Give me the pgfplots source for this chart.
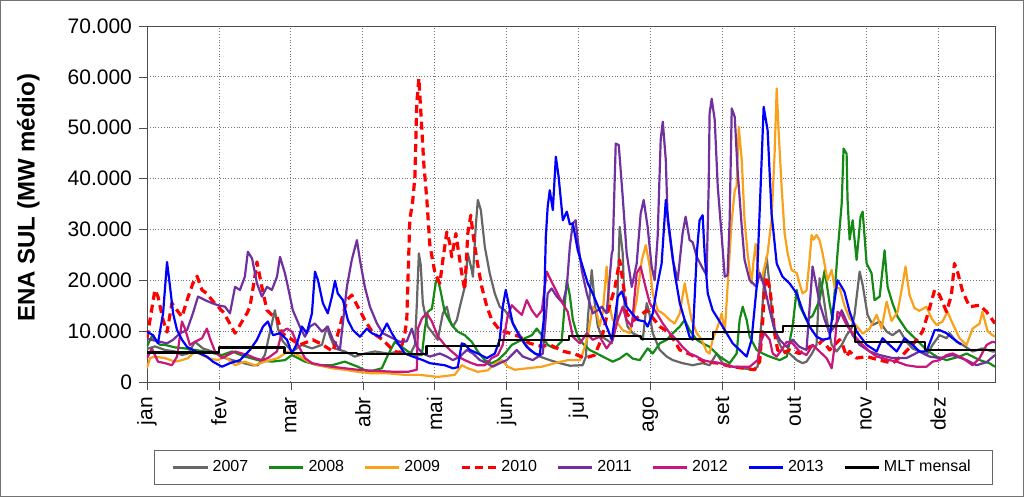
\documentclass[border=0pt]{standalone}
\usepackage{fontspec}
\setmainfont{Liberation Sans}
\usepackage{pgfplots}
\pgfplotsset{compat=1.18}
\definecolor{c07}{HTML}{666666}
\definecolor{c08}{HTML}{148A14}
\definecolor{c09}{HTML}{F9A11B}
\definecolor{c10}{HTML}{FF0000}
\definecolor{c11}{HTML}{7030A0}
\definecolor{c12}{HTML}{C8167A}
\definecolor{c13}{HTML}{0000FF}
\begin{document}
\begin{tikzpicture}
\useasboundingbox (0,0) rectangle (512pt,248.5pt);
\begin{axis}[
  at={(73.5pt,57.5pt)}, anchor=south west,
  scale only axis, width=424pt, height=178pt,
  xmin=0, xmax=364, ymin=0, ymax=70000,
  xtick={0,30.87,61.74,92.61,123.48,154.35,185.22,216.09,246.96,277.83,308.7,339.57},
  xticklabels={jan,fev,mar,abr,mai,jun,jul,ago,set,out,nov,dez},
  ytick={0,10000,20000,30000,40000,50000,60000,70000},
  scaled y ticks=false,
  /pgf/number format/1000 sep={.},
  /pgf/number format/assume math mode=true,
  tick label style={font=\fontsize{10.5}{12}\selectfont},
  xticklabel style={rotate=90, anchor=east},
  tick align=outside, tick pos=left, major tick length=4pt,
  tick style={black!70},
  axis line style={black!70},
  grid=major, major grid style={densely dotted, black!55},
  ylabel={ENA SUL (MW médio)},
  ylabel style={at={(axis description cs:-0.140,0.517)}, anchor=center, font=\bfseries\fontsize{12}{14}\selectfont},
  legend style={at={(axis description cs:0.503,-0.240)}, anchor=center, draw=black!60,
    font=\fontsize{8}{9.6}\selectfont, inner xsep=9pt, inner ysep=3pt,
    /tikz/every even column/.append style={column sep=8pt}},
  legend columns=8, legend cell align=left,
  every axis plot/.append style={mark=none, line join=round, line width=1.1pt},
]
% 2007
\addplot[c07] coordinates {(0,6500)(3.4,7000)(7.7,6300)(12,6000)(15,5300)(17.6,5600)(20.6,7900)(24,6600)(27.9,6000)(33.5,4700)(39,4000)(45.1,3300)(47.6,3300)(50.6,5300)(52.8,9900)(54.9,14100)(56.2,10500)(58.3,8000)(62.2,6000)(66.5,7300)(70.8,6600)(75.1,7300)(77.2,10900)(78.5,9000)(80.7,6600)(84.9,6000)(89.2,5000)(93.5,5600)(97.8,6000)(103.4,5600)(108.5,6000)(112.8,5300)(115,7300)(115.8,15000)(116.7,25300)(117.5,23000)(118.4,15500)(120.5,10900)(122.7,9600)(124.8,8300)(127,13500)(128.7,14800)(130,12200)(131.3,10900)(133,12200)(134.3,14800)(136.4,18700)(137.7,25300)(139.4,22000)(139.9,20700)(141.1,30500)(142,35800)(143.3,33800)(145,26600)(147.1,21400)(149.3,17400)(151.4,14800)(153.6,14100)(155.7,12800)(158.7,10200)(161.3,8300)(164.3,6300)(168.6,5000)(172.9,4300)(177.2,3700)(181.5,3200)(187,3300)(188.4,5000)(189.2,12200)(190.9,22000)(192.2,15500)(193.5,11000)(195.2,8900)(197.3,8300)(199.5,7600)(201.6,12000)(202.9,30500)(204.2,25300)(205.1,13500)(206.3,10900)(208.5,9600)(211.5,8900)(212.8,8300)(214.5,15500)(215.4,14100)(217.1,9600)(220.1,6300)(223.1,5000)(225.7,4300)(229.9,3700)(234.2,3300)(238.5,3700)(241.5,3300)(244.5,5600)(247.1,3700)(251.4,3000)(255.7,2700)(260,2400)(262.1,3000)(263.8,12200)(265.1,21400)(266,24600)(267.3,18700)(268.6,12200)(270.7,8300)(272.8,6300)(275.8,5600)(278.9,4300)(281.4,3700)(283.1,4000)(285.3,5500)(287.4,7300)(288.7,20400)(290,18000)(291.7,12500)(293.9,7300)(296,6000)(298.2,7300)(300.3,9200)(302.4,10500)(303.7,13200)(305.9,21700)(307.2,19100)(309.3,13200)(311.5,11200)(314.5,11900)(317.5,9900)(320,9200)(323,10200)(326,7900)(328.6,6600)(331.6,6000)(334.6,5300)(337.2,7300)(340.2,9200)(343.2,8600)(344.5,9600)(347.5,7900)(350.1,7300)(354.4,6000)(358.6,6600)(362.9,6000)(364,6000)};
% 2008
\addplot[c08] coordinates {(0,7000)(2.1,9000)(5.6,7300)(7.7,7300)(12,6800)(16.3,6600)(20.6,6300)(24.9,6000)(29.2,5600)(32.2,5300)(36.5,6000)(42,5000)(47.6,4300)(53.6,4000)(59.2,4300)(62.2,5300)(67.8,4000)(73.4,3300)(79.4,3300)(84.9,4000)(90.5,3000)(95,2000)(100.8,2700)(103.4,5300)(106.4,7900)(109.4,6900)(112,6000)(115,5300)(118,5300)(119.3,10500)(120.5,13800)(122.3,14400)(124,19700)(124.8,20400)(126.1,17700)(127.8,13800)(130.8,11200)(133.4,9900)(136.4,9200)(139.4,7900)(142,6000)(145,4300)(148,3700)(150.6,4300)(153.6,5600)(156.6,7300)(159.2,7900)(162.2,8600)(165.2,9200)(167.3,10500)(169.5,9200)(172,7300)(175,6600)(178,8000)(179.3,15100)(180.2,20000)(181.5,17000)(182.8,12200)(184.9,8900)(187,7600)(190,6300)(193.1,5600)(195.6,5000)(199.9,4000)(202.9,4600)(205.9,5600)(208.5,4600)(211.5,4300)(214.9,6600)(217.1,5600)(220.1,7600)(223.1,8300)(225.7,9600)(228.7,10900)(230.8,12200)(232.9,10200)(236,8300)(238.5,7600)(241.5,6900)(245.8,5000)(250.1,3700)(253.1,5600)(254.4,12200)(255.7,14800)(257.4,12200)(258.7,8900)(261.7,6300)(264.3,5600)(267.3,5000)(271.6,4300)(274.6,5000)(277.1,10900)(278.9,18100)(280.1,15000)(283.1,12200)(285.7,13000)(288.7,16100)(290.9,22000)(293,15500)(294.3,12200)(296.4,25300)(298.2,35100)(299,45900)(300.3,44900)(300.7,36000)(301.6,28000)(302.9,31800)(304.6,24000)(306.3,32500)(307.2,33500)(308.9,23300)(311,21400)(312.3,16100)(314.5,16800)(316.6,25900)(317.9,18700)(320,15500)(322.2,12800)(326,10200)(330.3,8300)(334.6,6300)(338.9,5000)(343.2,4300)(348.8,5000)(351.8,5600)(357.4,4300)(361.6,3700)(364,3000)};
% 2009
\addplot[c09] coordinates {(0,2700)(1.3,4700)(3.4,5000)(7.7,4700)(12,4000)(15,4300)(17.6,4700)(20.6,6000)(23.6,5300)(26.2,4700)(30.5,4300)(33.5,5000)(37.8,3300)(42,4000)(46.3,3300)(50.6,4000)(56.2,4700)(60.5,6000)(64.8,5300)(69.1,4000)(73.4,3300)(79.4,2700)(84.9,2400)(90.5,2000)(96.5,1700)(103.4,1700)(110.7,1400)(117.1,1400)(124.8,1000)(132.1,1400)(135.1,3300)(137.7,2700)(142,2000)(146.3,2300)(149.3,3600)(152.3,4300)(154.9,3000)(157.9,2400)(163.4,2700)(169.5,3000)(175,3700)(180.6,4300)(185.8,4300)(187,5600)(189.2,8900)(191.3,14800)(193.1,13500)(194.3,11000)(195.6,13500)(197.3,22700)(198.6,14800)(199.9,12200)(202.1,11500)(204.2,10200)(207.2,9600)(210.2,16100)(212.4,24000)(214.1,26900)(215.8,22700)(217.1,17400)(219.2,14100)(221.4,13500)(224.4,12200)(226.5,11500)(228.7,13500)(230.8,19400)(232.1,16100)(233.8,12200)(236,9600)(238.1,8300)(240.2,6000)(241.5,5600)(242.8,8300)(245,10900)(246.7,13500)(248,9600)(249.2,18700)(251,31800)(252.3,37700)(253.1,38500)(254,50200)(255.3,43600)(256.5,31800)(257.8,25300)(259.5,19400)(260.4,24000)(261.3,27200)(262.1,22700)(263.8,20000)(265.1,22700)(266.4,25300)(268.1,32000)(269.4,44900)(270.3,57700)(271.1,49500)(272.4,38400)(273.7,29200)(275,25300)(276.7,22000)(278.9,21400)(280.1,19400)(281.4,17400)(283.1,18000)(284.4,24000)(285.3,28900)(286.1,28000)(287.4,28900)(288.7,27900)(290,25300)(292.1,20000)(293.9,22000)(295.2,18500)(297.3,18500)(299.4,15000)(301.6,12500)(304.6,11000)(307.2,9500)(310.2,10500)(313.2,13200)(315.3,10500)(317.5,15800)(319.6,12000)(322.2,13800)(324.3,19100)(325.6,22700)(327.3,17100)(329.5,14500)(331.6,14000)(334.6,14800)(336.8,12500)(338.9,11200)(341.5,11900)(343.6,13800)(345.8,11500)(348.8,8600)(351.8,7300)(354.4,10500)(357.4,11500)(358.6,13800)(360.8,10000)(362.9,9200)(364,8900)};
% 2010
\addplot[c10, line width=1.6pt, dash pattern=on 4pt off 2.5pt] coordinates {(0,8600)(3.4,18100)(4.7,16800)(6.9,12200)(8.6,9800)(10.7,15500)(12.9,14100)(15,12800)(17.2,16100)(19.7,19400)(21.5,20800)(23.6,18100)(25.7,17400)(27.9,16100)(30.5,14800)(32.6,13800)(34.7,12200)(37.8,9600)(39.9,11200)(42.9,13500)(44.2,14800)(46.3,20700)(47.2,23600)(49.3,18700)(51.5,14100)(53.6,13200)(55.8,12800)(57.9,9600)(61.3,8600)(65.6,7300)(71.2,8300)(75.5,7300)(79.8,6000)(82.8,10900)(85.8,16100)(87.9,17100)(90.5,14800)(93.5,12200)(97,9600)(101.2,8300)(105.5,6300)(108.5,5600)(110.7,9600)(111.5,12200)(112.8,31800)(114.1,35800)(115,40300)(115.8,54800)(116.7,59700)(118,49500)(118.8,43000)(120.1,36000)(121.4,27000)(123.6,21400)(125.7,19400)(127,24000)(128.7,29500)(130,27200)(130.8,24600)(132.6,29200)(133.4,26600)(135.1,21400)(136.4,18100)(137.7,29200)(139,32800)(139.9,29200)(141.6,24000)(143.7,18700)(145.9,14800)(148,12200)(151.4,10200)(155.7,9600)(160,8900)(164.3,7600)(169.5,7000)(172.9,7300)(179,6000)(183.6,5500)(187.9,4700)(192.2,5300)(195.2,8600)(197.8,13800)(200.8,18400)(202.9,24000)(205.1,17100)(205.9,13500)(208.5,12000)(211.5,13000)(214.5,14100)(220.1,10900)(224.4,9600)(228.7,6300)(233.8,5300)(239.4,4000)(245,3700)(251,3000)(256.5,2700)(260.8,2400)(263,4000)(264.3,12000)(265.1,18400)(266,20700)(267.3,18500)(268.1,15500)(269.4,9600)(270.7,6300)(272.8,5600)(275.8,6300)(280.1,5600)(284.4,6900)(288.7,7600)(290,8300)(293,6300)(297.3,8300)(298.6,7300)(300.3,5000)(301.6,6000)(304.6,4700)(308.9,5000)(314.5,4300)(320,3700)(324.3,5300)(328.6,7300)(332.9,9900)(335.9,14500)(338.1,18100)(340.2,17100)(343.2,13800)(345.3,17100)(346.6,23300)(347.9,21700)(350.1,17800)(353.1,14800)(357.4,15100)(360.4,13800)(362.9,12200)(364,11500)};
% 2011
\addplot[c11] coordinates {(0,8500)(5.6,7900)(8.6,7600)(11.2,8300)(14.2,9600)(17.2,10200)(19.7,13500)(21.9,16800)(24.9,16100)(27.9,15500)(30.5,15100)(33.5,14800)(35.6,13500)(37.8,18700)(39.9,18100)(42,20700)(43.3,25600)(45.1,24300)(47.2,19400)(49.3,16800)(51.5,18700)(53.6,18100)(55.8,20700)(57.1,24600)(59.2,21400)(60.5,18700)(62.6,14100)(65.6,10900)(67.8,8900)(69.9,10900)(72.1,11500)(75.1,9900)(77.6,10900)(79.8,8300)(82.8,6300)(85.8,18700)(87.9,24000)(90.1,27900)(91.4,24000)(93.5,18700)(95.7,14800)(98.7,11500)(101.2,9600)(105.5,8600)(108.5,7900)(111.5,8000)(113.7,10500)(115.8,6900)(118.4,5600)(121.4,5000)(125.7,5600)(128.7,5000)(131.3,4300)(134.3,5000)(137.3,6300)(139.9,5600)(142.9,4300)(145.9,3700)(148.4,3000)(151.4,3700)(154.4,4300)(158.7,6300)(161.3,5000)(165.6,4300)(169.9,5600)(172,17400)(173.7,18400)(175.9,16800)(178.5,15500)(180.2,18700)(181.5,26600)(182.8,31200)(184,31800)(184.9,27900)(186.6,22000)(188.8,17400)(191.3,13500)(193.5,14100)(195.2,14800)(197.3,13500)(199.5,25300)(199.9,25900)(201.2,46900)(202.5,46600)(204.2,36400)(205.9,25300)(208.1,18700)(210.2,23300)(211.9,33100)(213.2,35800)(214.9,30500)(216.6,22700)(217.9,20000)(219.2,28600)(220.5,47600)(221.4,51200)(222.7,43600)(223.5,31800)(225.7,24000)(227.8,20000)(229.9,29200)(231.2,32500)(232.9,27900)(234.2,27500)(236,24600)(238.1,22700)(240.2,21000)(241.1,38400)(241.5,52800)(242.4,55700)(243.7,51500)(245,38400)(246.7,28600)(248,20700)(249.2,21000)(250.1,31800)(251,53800)(252.3,52100)(253.5,41700)(255.3,30500)(256.5,24000)(258.7,20000)(261.7,18700)(263,21400)(265.1,18700)(267.3,14100)(269.4,10200)(271.6,8300)(274.6,6900)(277.1,8300)(280.1,6900)(283.1,6300)(285.7,22700)(287.4,18700)(288.7,15500)(290.9,12200)(293,9600)(295.2,11000)(296.4,11900)(298.2,14100)(300.3,11900)(302.9,9200)(305.9,7300)(310.2,6000)(314.5,5300)(320,4700)(326,4700)(331.6,6000)(335.9,5000)(340.2,4700)(345.8,5300)(351.8,4300)(356.1,3300)(360.4,3900)(364,5300)};
% 2012
\addplot[c12] coordinates {(0,4700)(2.1,6600)(4.7,4000)(7.7,3700)(10.7,3300)(12.9,5000)(15,11900)(16.3,10500)(18.4,7300)(20.6,7900)(23.6,8600)(25.7,10500)(27,8600)(29.2,6000)(32.2,4700)(34.7,5300)(37.8,6000)(40.8,5600)(43.3,5300)(46.3,4700)(49.3,4300)(51.9,4700)(55.8,6000)(57.9,9900)(60.1,10500)(62.2,9900)(64.8,7300)(67.8,4700)(70.8,3700)(75.1,3300)(79.4,3000)(84.9,2700)(90.5,2400)(97.8,2200)(106.4,2000)(112,2000)(115.8,2400)(116.3,10500)(118,12500)(120.1,13500)(122.3,11900)(124.8,9000)(127.8,7300)(130.8,6000)(133.4,5000)(136.4,4300)(139.4,3700)(142,3300)(145,3300)(148,4700)(150.6,5300)(152.7,7300)(154.9,13200)(156.6,15100)(158.7,14100)(160.9,13200)(163,16100)(165.2,14100)(167.3,12800)(169.5,14100)(171.6,21700)(173.7,19700)(175.9,17700)(178,15800)(180.6,13800)(182.8,8900)(185.8,7600)(188.8,9600)(191.3,8300)(194.3,8900)(197.3,6600)(199.9,8300)(202.1,12200)(204.2,14800)(205.9,12200)(208.1,10900)(210.2,21400)(211.9,22700)(213.6,19400)(215.8,15500)(218.8,13500)(221.4,11500)(224.4,9600)(227.4,8300)(229.9,6900)(232.9,5600)(236,5000)(238.5,4300)(241.5,4000)(245.8,3700)(251.4,3000)(258.7,3000)(262.1,4300)(263.8,8300)(265.1,9600)(267.3,8300)(268.6,5600)(270.3,5000)(272.4,6300)(274.6,7900)(277.1,7600)(280.1,6000)(283.1,5300)(285.7,7300)(288.7,6000)(291.7,4700)(293.9,2700)(295.2,7300)(296.4,13800)(298.2,13200)(300.3,11200)(302.4,9900)(304.6,8600)(307.2,7300)(310.2,6000)(313.2,5000)(315.7,4700)(318.7,4300)(321.8,4000)(326,3300)(330.3,3000)(334.6,3000)(337.2,4000)(340.2,4300)(343.2,5300)(345.8,5600)(350.1,4700)(354.4,3300)(357.4,4700)(360.4,7300)(362.9,7900)(364,7800)};
% 2013
\addplot[c13] coordinates {(0,9900)(2.6,9200)(4.7,7600)(6.9,13500)(8.6,23600)(9.9,18700)(11.2,13500)(12.9,10200)(15,8300)(17.2,6900)(19.7,6300)(22.7,5600)(25.7,5000)(28.3,4000)(32.2,3000)(35.6,3700)(39.9,4300)(44.2,6300)(47.2,8300)(49.8,10900)(51.9,11900)(54.1,9200)(57.1,9600)(60.1,8300)(62.2,5600)(64.4,7600)(66.5,10900)(68.6,9600)(70.8,13500)(72.1,21700)(73.4,20000)(75.5,15500)(77.6,13500)(79.4,16800)(80.7,19900)(81.9,17400)(84.1,16100)(86.2,12200)(88.4,10200)(91.4,8900)(94.4,10500)(96.5,9600)(100,8900)(103,11500)(105.1,9600)(107.7,7600)(110.7,5600)(114.1,5000)(118.4,4300)(121.4,3700)(124.4,3500)(127.8,3300)(131.3,2700)(133.4,2900)(135.1,7600)(136.4,7400)(138.6,6300)(142,5600)(145.9,4700)(149.3,5600)(151.4,8300)(152.7,14800)(154,18100)(154.9,16100)(157,11500)(160,8900)(163,6900)(166.5,5600)(168.6,5300)(170.3,12200)(171.2,28600)(172,34500)(172.9,37700)(174.2,33800)(175.5,44300)(176.7,40300)(178.5,31800)(180.2,33500)(181.5,31000)(182.8,31200)(184.9,25900)(187,22700)(189.2,19400)(191.3,17400)(194.3,14100)(197.3,10900)(199.5,8300)(202.1,16800)(203.8,17800)(205.9,14800)(208.1,13500)(210.6,12200)(213.6,11900)(214.9,10900)(217.1,13500)(219.2,19400)(220.9,23300)(222.7,35800)(224.4,29200)(226.5,21400)(228.7,15500)(230.8,12200)(232.9,8900)(234.2,8300)(236,25300)(237.2,31800)(238.5,32800)(239.4,25000)(240.7,17400)(242.8,14100)(245.8,11900)(248.8,9600)(251.4,7600)(254.4,6300)(257.4,5000)(259.5,8300)(261.7,18700)(263.4,38400)(264.7,54100)(266.4,49500)(268.1,33100)(270.3,23300)(272.8,20700)(275.8,19400)(278.9,17400)(281.4,14100)(284.4,10900)(287.4,8900)(290,8300)(293,8600)(294.3,13500)(296.4,20000)(298.2,18700)(299.4,17700)(301.6,13800)(304.6,9900)(308.9,7300)(313.2,6000)(315.7,8600)(318.7,7300)(321.8,6000)(325.2,8600)(328.6,7300)(331.6,6000)(334.6,6000)(336.8,8600)(338.1,10200)(340.2,10200)(343.2,9600)(345.8,8600)(348.8,7600)(349.6,7400)};
% MLT mensal
\addplot[black, const plot] coordinates {(0,5800)(31,6800)(59,5700)(90,5500)(120,7100)(151,8200)(181,9100)(212,8400)(243,9800)(273,11000)(304,7800)(334,6300)(364,6300)};
\legend{2007,2008,2009,2010,2011,2012,2013,MLT mensal}
\end{axis}
\draw[black!55, line width=0.6pt] (0.3pt,0.3pt) rectangle (511.7pt,248.2pt);
\end{tikzpicture}
\end{document}
